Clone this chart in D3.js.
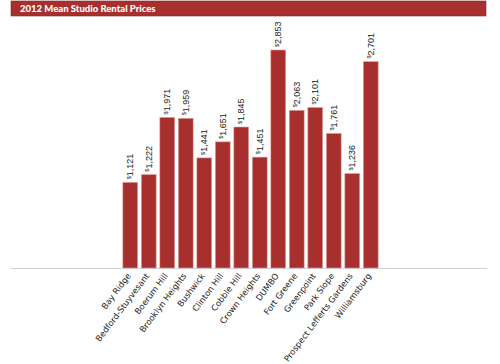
<!DOCTYPE html>
<html>
<head>
<meta charset="utf-8">
<script src="https://cdn.jsdelivr.net/npm/d3@7"></script>
<style>
  body { margin: 0; background: #fff; }
  svg { display: block; }
</style>
</head>
<body>
<svg id="chart" width="500" height="364"></svg>
<script>
// chart values
var title = '2012 Mean Studio Rental Prices';
var neighborhoods = ['Bay Ridge', 'Bedford-Stuyvesant', 'Boerum Hill', 'Brooklyn Heights', 'Bushwick',
  'Clinton Hill', 'Cobble Hill', 'Crown Heights', 'DUMBO', 'Fort Greene', 'Greenpoint',
  'Park Slope', 'Prospect Lefferts Gardens', 'Williamsburg'];
var prices = [1121, 1222, 1971, 1959, 1441, 1651, 1845, 1451, 2853, 2063, 2101, 1761, 1236, 2701];

var svg = d3.select('#chart');
var red = '#a7302e';

// title banner
svg.append('rect')
  .attr('x', 11).attr('y', 1)
  .attr('width', 475).attr('height', 15)
  .attr('fill', red)
  .attr('stroke', '#8e2624').attr('stroke-width', 0.6);
svg.append('text')
  .attr('x', 20).attr('y', 12)
  .attr('fill', '#fff')
  .attr('font-family', 'Lato, sans-serif')
  .attr('font-weight', 900)
  .attr('font-size', 9.5)
  .text(title);

// scales
var baseY = 268;
var x = d3.scaleBand()
  .domain(neighborhoods)
  .range([121, 380])
  .paddingInner(0.2)
  .paddingOuter(0.1);
var y = d3.scaleLinear()
  .domain([0, 2853])
  .range([baseY, 50]);

// baseline
svg.append('line')
  .attr('x1', 11).attr('x2', 487)
  .attr('y1', baseY + 0.5).attr('y2', baseY + 0.5)
  .attr('stroke', '#cfcfcf').attr('stroke-width', 1);

// bars
svg.selectAll('rect.bar')
  .data(prices)
  .enter()
  .append('rect')
    .attr('class', 'bar')
    .attr('x', function(d, i) { return x(neighborhoods[i]); })
    .attr('y', function(d) { return y(d); })
    .attr('width', x.bandwidth())
    .attr('height', function(d) { return baseY - y(d); })
    .attr('fill', red)
    .attr('stroke', '#e0a09c')
    .attr('stroke-width', 0.6);

// value labels, rotated
var fmt = d3.format(',');
var labels = svg.selectAll('text.val')
  .data(prices)
  .enter()
  .append('text')
    .attr('class', 'val')
    .attr('transform', function(d, i) {
      var cx = x(neighborhoods[i]) + x.bandwidth() / 2 + 3;
      return 'translate(' + cx + ',' + (y(d) - 3) + ') rotate(-90)';
    })
    .attr('font-family', 'Liberation Sans, Arial, sans-serif')
    .attr('font-size', 9)
    .attr('fill', '#222');
labels.append('tspan')
  .attr('font-size', 5.5)
  .attr('dy', -2.5)
  .text('$');
labels.append('tspan')
  .attr('dy', 2.5)
  .text(function(d) { return fmt(d); });

// category labels, slanted
svg.selectAll('text.cat')
  .data(neighborhoods)
  .enter()
  .append('text')
    .attr('class', 'cat')
    .attr('text-anchor', 'end')
    .attr('transform', function(d) {
      var cx = x(d) + x.bandwidth() / 2 + 1;
      return 'translate(' + cx + ',' + (baseY + 8) + ') rotate(-53)';
    })
    .attr('font-family', 'DejaVu Sans, sans-serif')
    .attr('font-size', 8.4)
    .attr('fill', '#222')
    .text(function(d) { return d; });
</script>
</body>
</html>
